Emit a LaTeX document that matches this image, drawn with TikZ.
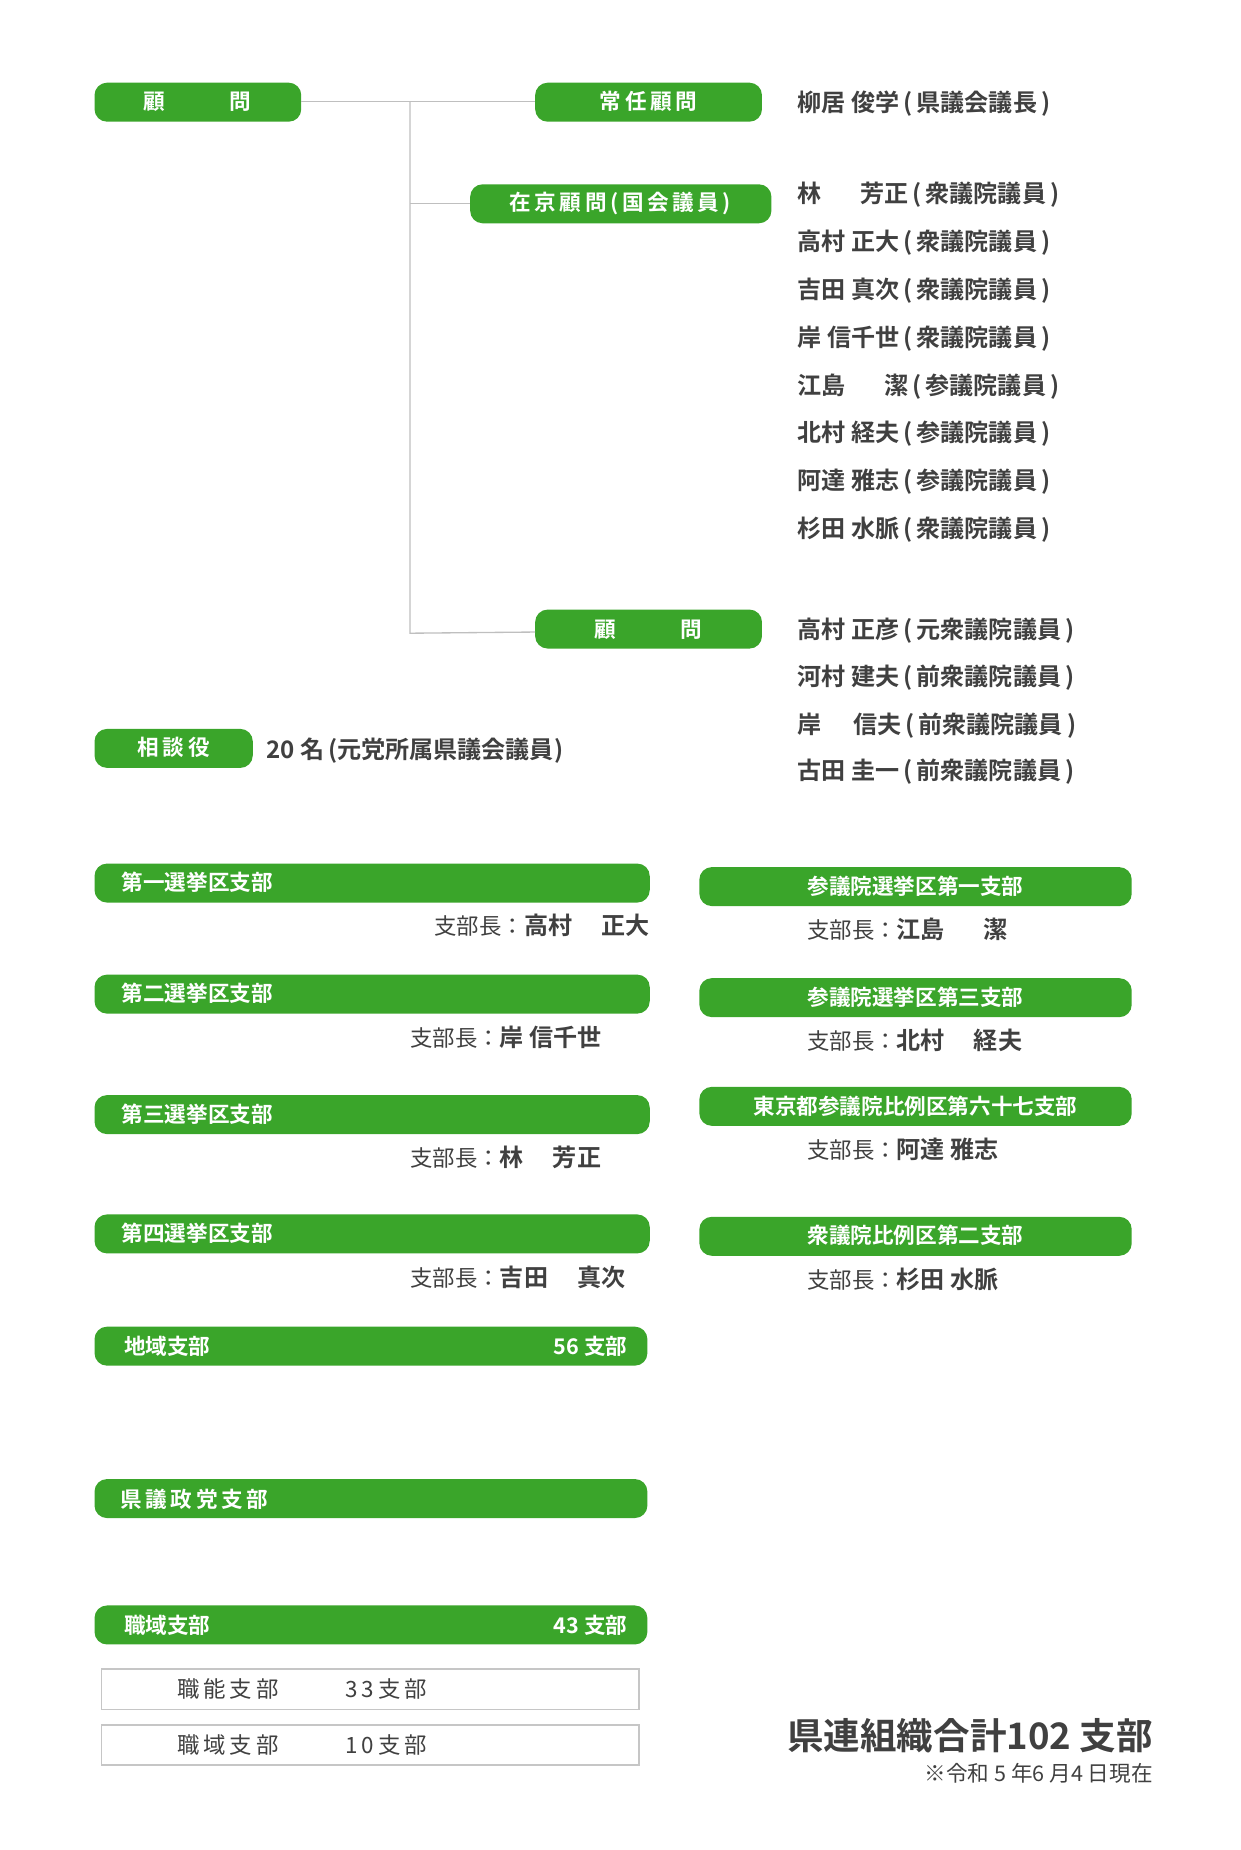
\documentclass[tikz,border=0pt]{standalone}
\usepackage{fontspec}
\setmainfont{Noto Sans CJK JP}
\newfontfamily\bfj{Noto Sans CJK JP Bold}
\definecolor{gr}{HTML}{3AA52A}
\definecolor{tx}{HTML}{404040}
\begin{document}
\begin{tikzpicture}[x=0.025cm,y=-0.025cm,
 bar/.style={fill=gr,rounded corners=7.5pt},
 bt/.style={text=white,font=\bfj\fontsize{13}{13}\selectfont},
 nm/.style={anchor=west,text=tx,font=\bfj\fontsize{14.5}{15}\selectfont,inner sep=0},
 sb/.style={text=tx,inner sep=0,font=\fontsize{13.5}{14}\selectfont}]
\useasboundingbox (0,0) rectangle (1050,1566);
% top
\fill[bar] (80,70) rectangle (255,103); \node[bt] (k1) at (167,86) {顧\hspace{3em}問};
\fill[bar] (453,70) rectangle (645,103); \node[bt] (k2) at (549,86) {常\,任\,顧\,問};
\fill[bar] (398,156) rectangle (653,189); \node[bt] (k3) at (525,172) {在\,京\,顧\,問\,(\,国\,会\,議\,員\,)};
\fill[bar] (453,516) rectangle (645,549); \node[bt] (k4) at (549,533) {顧\hspace{3em}問};
\coordinate (j) at (347,86);
\draw[gray!50,line width=0.8pt] (255,86) -- (453,86);
\draw[gray!50,line width=0.8pt] (j) -- (347,536) -- (453,535);
\draw[gray!50,line width=0.8pt] (347,172) -- (398,172);
\node[nm] (n0) at (675,88) {柳居 俊学\,(\,県議会議長\,)};
\foreach \t [count=\i] in {林\hspace{1.6em}芳正,高村 正大,吉田 真次,岸 信千世}
  \node[nm] at (675,{165+(\i-1)*40.5}) {\t\,(\,衆議院議員\,)};
\node[nm] at (675,327) {江島\hspace{1.6em}潔\,(\,参議院議員\,)};
\node[nm] at (675,367) {北村 経夫\,(\,参議院議員\,)};
\node[nm] at (675,408) {阿達 雅志\,(\,参議院議員\,)};
\node[nm] at (675,448) {杉田 水脈\,(\,衆議院議員\,)};
\node[nm] at (675,534) {高村 正彦\,(\,元衆議院議員\,)};
\node[nm] at (675,574) {河村 建夫\,(\,前衆議院議員\,)};
\node[nm] at (675,614) {岸\hspace{1.3em}信夫\,(\,前衆議院議員\,)};
\node[nm] at (675,653) {古田 圭一\,(\,前衆議院議員\,)};
\fill[bar] (80,617) rectangle (214,650); \node[bt] (s1) at (147,633) {相\,談\,役};
\node[nm] (s2) at (225,635) {20 名\,(元党所属県議会議員)};
% left bars
\foreach \y/\t in {731/第一選挙区支部,825/第二選挙区支部,927/第三選挙区支部,1028/第四選挙区支部}{
  \fill[bar] (80,\y) rectangle (550,\y+33);
  \node[bt,anchor=west] at (98,\y+16) {\t};}
\node[sb,anchor=east] at (550,783) {支部長：{\bfj\fontsize{14.5}{15}\selectfont 高村\hspace{1.2em}正大}};
\node[sb,anchor=west] at (347,878) {支部長：{\bfj\fontsize{14.5}{15}\selectfont 岸 信千世}};
\node[sb,anchor=west] at (347,980) {支部長：{\bfj\fontsize{14.5}{15}\selectfont 林\hspace{1.2em}芳正}};
\node[sb,anchor=west] at (347,1081) {支部長：{\bfj\fontsize{14.5}{15}\selectfont 吉田\hspace{1.2em}真次}};
\fill[bar] (80,1123) rectangle (548,1156);
\node[bt,anchor=west] at (100,1140) {地域支部}; \node[bt,anchor=east] at (536,1140) {56 支部};
\fill[bar] (80,1252) rectangle (548,1285);
\node[bt,anchor=west] at (97,1269) {県\,議\,政\,党\,支\,部};
\fill[bar] (80,1359) rectangle (548,1392);
\node[bt,anchor=west] at (100,1376) {職域支部}; \node[bt,anchor=east] at (536,1376) {43 支部};
\draw[gray!45,line width=1pt] (86,1413) rectangle (541,1447);
\draw[gray!45,line width=1pt] (86,1460) rectangle (541,1494);
\node[sb,anchor=west] at (150,1430) {職\,能\,支\,部\hspace{3em}3\,3\,支\,部};
\node[sb,anchor=west] at (150,1477) {職\,域\,支\,部\hspace{3em}1\,0\,支\,部};
% right bars
\foreach \y/\t in {734/参議院選挙区第一支部,828/参議院選挙区第三支部,920/東京都参議院比例区第六十七支部,1030/衆議院比例区第二支部}{
  \fill[bar] (592,\y) rectangle (958,\y+33);
  \node[bt] at (775,\y+16) {\t};}
\node[sb,anchor=west] at (683,787) {支部長：{\bfj\fontsize{14.5}{15}\selectfont 江島\hspace{1.6em}潔}};
\node[sb,anchor=west] at (683,881) {支部長：{\bfj\fontsize{14.5}{15}\selectfont 北村\hspace{1.2em}経夫}};
\node[sb,anchor=west] at (683,973) {支部長：{\bfj\fontsize{14.5}{15}\selectfont 阿達 雅志}};
\node[sb,anchor=west] at (683,1083) {支部長：{\bfj\fontsize{14.5}{15}\selectfont 杉田 水脈}};
\node[anchor=east,inner sep=0,text=tx,font=\bfj\fontsize{22}{22}\selectfont] (t1) at (976,1469) {県連組織合計102 支部};
\node[anchor=east,inner sep=0,text=tx,font=\fontsize{13}{13}\selectfont] (t2) at (976,1501) {※令和 5 年6 月4 日現在};
\end{tikzpicture}
\end{document}
